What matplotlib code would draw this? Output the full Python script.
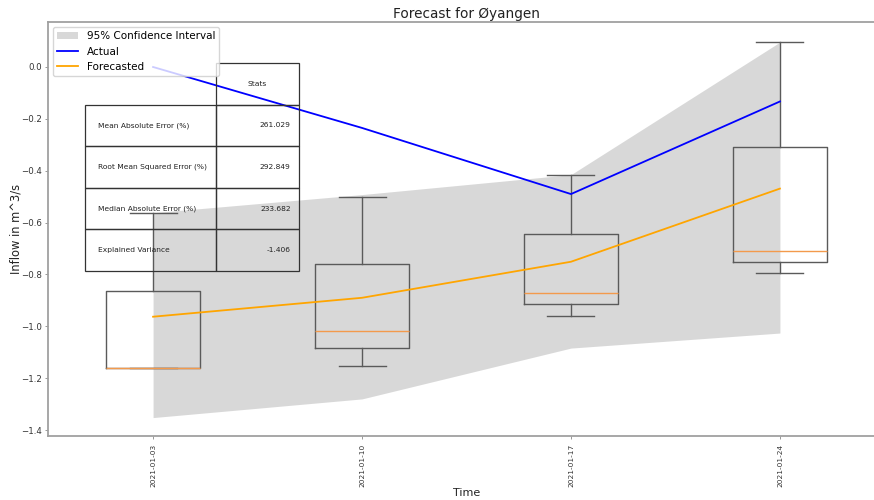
import matplotlib
matplotlib.use("Agg")
import matplotlib.pyplot as plt
import matplotlib.dates as mdates
from matplotlib.table import Table
import pandas as pd

# Weekly observations and model output
dates = ["2021-01-03", "2021-01-10", "2021-01-17", "2021-01-24"]
actual = [0.0, -0.235, -0.490, -0.133]
forecast = [-0.963, -0.890, -0.751, -0.469]
ci_lower = [-1.352, -1.280, -1.084, -1.026]
ci_upper = [-0.562, -0.492, -0.415, 0.096]

# Ensemble spread per week (box plot summary)
box_whislo = [-1.160, -1.153, -0.961, -0.794]
box_q1 = [-1.160, -1.085, -0.915, -0.752]
box_med = [-1.160, -1.017, -0.870, -0.711]
box_q3 = [-0.863, -0.758, -0.644, -0.307]
box_whishi = [-0.562, -0.500, -0.415, 0.096]

# Error statistics table
stat_names = ["Mean Absolute Error (%)", "Root Mean Squared Error (%)",
              "Median Absolute Error (%)", "Explained Variance"]
stat_values = ["261.029", "292.849", "233.682", "-1.406"]

x = mdates.date2num(pd.to_datetime(dates))

fig = plt.figure(figsize=(8.74, 5.0), dpi=100)
ax = fig.add_axes([48 / 874, 64 / 500, 837 / 874, 414 / 500])

ax.fill_between(x, ci_lower, ci_upper, color="gray", alpha=0.3,
                linewidth=0, label="95% Confidence Interval", zorder=1)

stats = [dict(whislo=lo, q1=a, med=m, q3=b, whishi=hi, fliers=[])
         for lo, a, m, b, hi in zip(box_whislo, box_q1, box_med, box_q3, box_whishi)]
line_kw = dict(color="#5a5a5a", linewidth=1.0)
ax.bxp(stats, positions=x, widths=3.15, manage_ticks=False,
       boxprops=line_kw, whiskerprops=line_kw, capprops=line_kw,
       medianprops=dict(color="#f39a4c", linewidth=1.0), zorder=2)

ax.plot(x, actual, color="blue", linewidth=1.3, label="Actual", zorder=3)
ax.plot(x, forecast, color="orange", linewidth=1.3, label="Forecasted", zorder=3)

ax.set_xlim(x[0] - 3.52, x[-1] + 3.52)
ax.set_ylim(-1.423, 0.1735)
ax.set_xticks(x)
ax.set_xticklabels(dates, rotation=90)
ax.tick_params(axis="both", length=2.5, width=0.6,
               color="#888888", labelcolor="#333333")
ax.tick_params(axis="x", labelsize=5.3, pad=3)
ax.tick_params(axis="y", labelsize=6.2, pad=1.8)
for s in ax.spines.values():
    s.set_color("#a0a0a0")
    s.set_linewidth(1.3)

ax.set_title("Forecast for Øyangen", fontsize=9.8, color="#222222", pad=3)
ax.set_xlabel("Time", fontsize=8, color="#222222", labelpad=1)
ax.set_ylabel("Inflow in m^3/s", fontsize=8.3, color="#222222")
ax.yaxis.set_label_coords(-0.030, 0.5)

ax.legend(loc="upper left", fontsize=7.5, framealpha=0.8, borderaxespad=0.5)

# Statistics table, transparent cells
tbl = Table(ax, bbox=[37 / 837, 165 / 414, 214 / 837, 208 / 414])
w0, w1 = 131 / 214, 83 / 214
h = 1 / 5
hdr = tbl.add_cell(0, 0, w0, h, text="", loc="left")
hdr.visible_edges = "open"
tbl.add_cell(0, 1, w1, h, text="Stats", loc="center")
for i, (name, val) in enumerate(zip(stat_names, stat_values), start=1):
    tbl.add_cell(i, 0, w0, h, text=name, loc="left")
    tbl.add_cell(i, 1, w1, h, text=val, loc="right")
for cell in tbl.get_celld().values():
    cell.set_facecolor("none")
    cell.set_edgecolor("#333333")
    cell.set_linewidth(0.9)
    cell.get_text().set_color("#222222")
tbl.auto_set_font_size(False)
tbl.set_fontsize(5.4)
tbl.set_zorder(4)
ax.add_table(tbl)

fig.savefig("out.png", dpi=100)
